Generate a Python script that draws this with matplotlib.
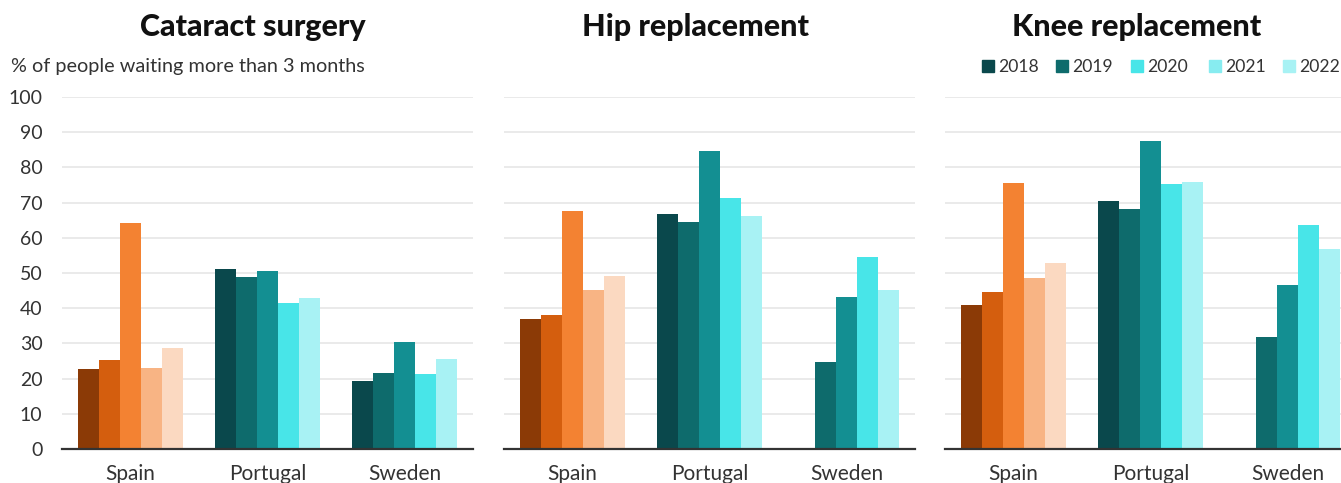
import matplotlib
matplotlib.use("Agg")
import matplotlib.pyplot as plt
from matplotlib.patches import Rectangle
import numpy as np

plt.rcParams['font.family'] = ['Lato', 'DejaVu Sans']

countries = ["Spain", "Portugal", "Sweden"]
years = ["2018", "2019", "2020", "2021", "2022"]
titles = ["Cataract surgery", "Hip replacement", "Knee replacement"]

# values[country] = [2018..2022]; nan = no data
cataract_spain = [22.6, 25.2, 64.3, 22.9, 28.6]
cataract_portugal = [51.0, 48.8, 50.7, 41.5, 42.8]
cataract_sweden = [19.4, 21.5, 30.5, 21.4, 25.7]

hip_spain = [37.0, 38.2, 67.7, 45.3, 49.2]
hip_portugal = [66.8, 64.6, 84.7, 71.4, 66.3]
hip_sweden = [np.nan, 24.6, 43.2, 54.5, 45.2]

knee_spain = [41.0, 44.7, 75.7, 48.7, 52.9]
knee_portugal = [70.5, 68.3, 87.6, 75.2, 75.9]
knee_sweden = [np.nan, 31.9, 46.5, 63.6, 56.7]

panels = [
    [cataract_spain, cataract_portugal, cataract_sweden],
    [hip_spain, hip_portugal, hip_sweden],
    [knee_spain, knee_portugal, knee_sweden],
]

spain_colors = ["#8b3a06", "#d45e0e", "#f38232", "#f8b484", "#fbd9c1"]
teal_colors = ["#0a484c", "#0e6b6c", "#138f92", "#48e5e8", "#a8f2f4"]
legend_colors = ["#0a484c", "#0e6b6c", "#48e5e8", "#87ecf0", "#a8f2f4"]

W, H = 1341, 483
fig = plt.figure(figsize=(W / 100, H / 100), dpi=100)

lefts_px = [62, 504, 945]
ax_w_px = 411
bottom_px = 34
ax_h_px = 352
bw = 0.154

txt_color = "#333333"

for p, (lp, data) in enumerate(zip(lefts_px, panels)):
    ax = fig.add_axes([lp / W, bottom_px / H, ax_w_px / W, ax_h_px / H])
    for ci, vals in enumerate(data):
        cols = spain_colors if ci == 0 else teal_colors
        for yi, v in enumerate(vals):
            if np.isnan(v):
                continue
            ax.bar(ci + (yi - 2) * bw, v, width=bw, color=cols[yi],
                   linewidth=0, zorder=2)
    ax.set_xlim(-0.5, 2.5)
    ax.set_ylim(0, 100)
    ax.set_yticks(np.arange(0, 101, 10))
    ax.set_xticks(range(len(countries)))
    ax.set_xticklabels(countries)
    ax.grid(axis='y', color="#e6e6e6", linewidth=1.2, zorder=0)
    ax.set_axisbelow(True)
    for s in ["top", "right", "left"]:
        ax.spines[s].set_visible(False)
    ax.spines["bottom"].set_color("#333333")
    ax.spines["bottom"].set_linewidth(1.6)
    ax.spines["bottom"].set_zorder(3)
    ax.tick_params(axis='x', length=0, pad=11, labelsize=15, labelcolor=txt_color)
    ax.tick_params(axis='y', length=0, pad=14, labelsize=14, labelcolor=txt_color)
    if p > 0:
        ax.tick_params(axis='y', labelleft=False)

title_x = [253, 695, 1137]
for tx, t in zip(title_x, titles):
    fig.text(tx / W, (H - 36) / H, t, ha='center', va='baseline',
             fontsize=22, fontweight='black', color="#111111")

fig.text(11 / W, (H - 72) / H, "% of people waiting more than 3 months",
         ha='left', va='baseline', fontsize=14.3, color=txt_color)

leg_x = [982, 1056, 1131, 1209, 1283]
for lx, c, y in zip(leg_x, legend_colors, years):
    fig.patches.append(Rectangle((lx / W, (H - 72) / H), 12 / W, 12 / H,
                                 transform=fig.transFigure, color=c,
                                 figure=fig))
    fig.text((lx + 16) / W, (H - 72) / H, y, ha='left', va='baseline',
             fontsize=12.6, color=txt_color)

fig.savefig("out.png", dpi=100)
